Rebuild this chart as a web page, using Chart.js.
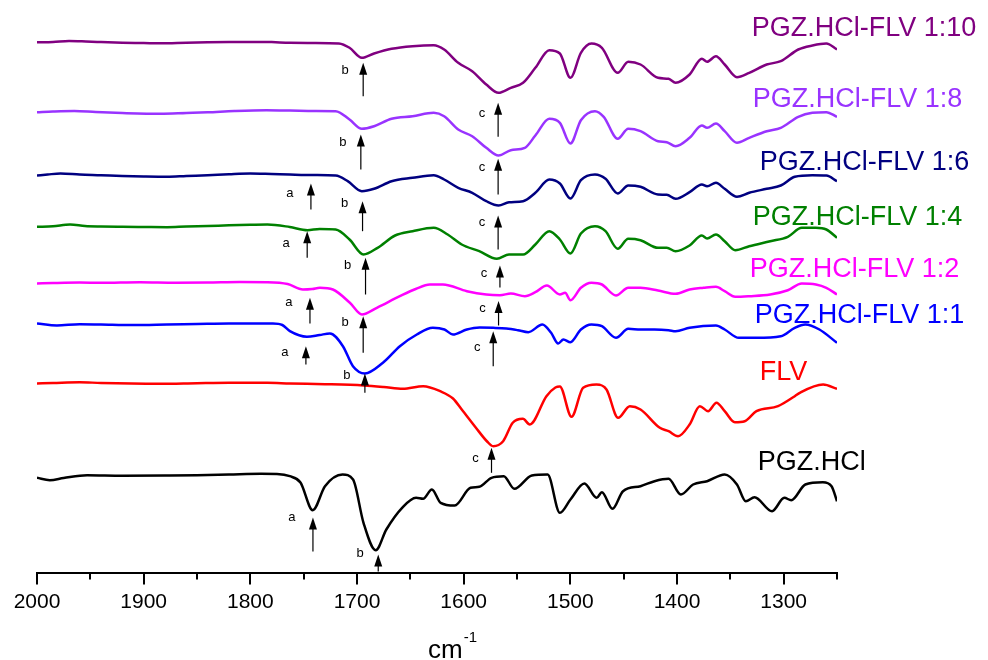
<!DOCTYPE html>
<html>
<head>
<meta charset="utf-8">
<title>FTIR spectra PGZ.HCl / FLV</title>
<script src="https://cdn.jsdelivr.net/npm/chart.js@4.4.1/dist/chart.umd.min.js"></script>
<style>
  html, body { margin: 0; padding: 0; background: #fff; }
  #wrap { width: 988px; height: 660px; position: relative; background: #fff; }
</style>
</head>
<body>
<div id="wrap"><canvas id="ftirChart"></canvas></div>
<script>
// Spectra as [wavenumber (cm-1), stacked transmittance (a.u.)]
const pgzHcl = [[2000,94.7],[1988,92.3],[1975,94.5],[1953,97.3],[1920,96.8],[1880,97],[1850,97.3],[1820,98],[1790,98.7],[1775,98.5],[1763,96.3],[1753,90],[1741.5,62.3],[1730,86.3],[1713.6,98],[1703.7,93],[1693.9,49.7],[1682.4,22.3],[1672.5,43],[1657.7,64.7],[1644.6,74.7],[1638,73.7],[1629.8,83],[1621.6,69.7],[1608.4,67],[1593.6,84.7],[1585.4,85.7],[1573.9,94.7],[1562.4,96.3],[1552.5,83.7],[1536.1,97],[1521.3,98],[1509.8,59.7],[1499.9,73],[1486.8,89],[1475.3,74.7],[1470.4,80.3],[1460.5,63.7],[1450.6,81.3],[1434.2,86.3],[1421.1,91.3],[1407.9,93.7],[1396.4,78],[1384.9,88],[1371.8,91.3],[1355.3,98],[1343.8,88],[1335.5,71.3],[1327.3,75.3],[1310.9,61.3],[1299.4,74.7],[1292.9,72.3],[1279.7,88],[1263.3,90.3],[1255.1,86.3],[1250,71.3]];

const flv = [[2000,189],[1985,189.5],[1960,190.3],[1940,189.5],[1884.7,188.7],[1850,189.3],[1820,189.7],[1784,189.7],[1762.9,189],[1730,188.3],[1693.9,187],[1675,185.5],[1657,183.7],[1638,186.3],[1622,181.3],[1610,174],[1601.8,163],[1588.7,145],[1578,131],[1572.3,126.3],[1563,131.3],[1554,149.7],[1544.5,153.7],[1538,148],[1522.4,176.3],[1514,185],[1509.8,186],[1498.9,155.7],[1488,184.7],[1475.5,188],[1466.1,183],[1455.2,154.7],[1444.2,166.3],[1434.2,163],[1416.1,144.7],[1407.9,141.3],[1399,136.3],[1388.2,148],[1378.6,166.3],[1370.9,161.3],[1363,169.7],[1355.3,161.3],[1345.8,150.3],[1336.5,151.3],[1325.5,161.3],[1305.3,166.3],[1289.6,176.3],[1284.9,179.7],[1263,188],[1250,183.7]];

const ratio11 = [[2000,249],[1981.3,247],[1960,248.3],[1940,248],[1910,247.5],[1878.2,248],[1850,248.5],[1820,249],[1778.8,249],[1770,247.5],[1762.9,241.3],[1746.9,235.7],[1735,237.5],[1725.4,239],[1713.2,226.3],[1703.8,206.3],[1692.6,199],[1675.7,209.7],[1659.8,226.3],[1643.9,238],[1628.9,244.7],[1618,243],[1610.1,238],[1597,243],[1585,245],[1572.3,244.7],[1560,244],[1549.2,242.3],[1539.4,240.3],[1526.2,248],[1518,239.7],[1511.4,229],[1506.5,233],[1499.9,230.3],[1490.1,243],[1480.2,248],[1470.4,246.3],[1457.2,234.7],[1445.7,243.7],[1434.2,243],[1421.1,243],[1407.9,242.3],[1401.3,241.3],[1388.2,244.7],[1363.5,247],[1355.3,243],[1342.1,234.7],[1325.7,234.7],[1302.7,236.3],[1289.6,244.7],[1279.7,248],[1266.5,243],[1250,229.7]];

const ratio12 = [[2000,289],[1985,289.5],[1960,290],[1940,289.7],[1903.5,290.3],[1870,289.8],[1840,290],[1810,290.5],[1784.4,290.3],[1765,288.5],[1750.7,283],[1742,283.5],[1734.8,284.7],[1722.6,283],[1706.7,269.7],[1695.4,258],[1681.4,264.7],[1659.8,276.3],[1645,283.5],[1631.7,288],[1619.5,288],[1597,281.3],[1578.8,278],[1566,277.3],[1555.8,279],[1542.6,276.3],[1532.8,280.3],[1522,287],[1509.8,278],[1504.9,279.7],[1499.9,272.3],[1490.1,284.7],[1480.2,289.7],[1470.4,288],[1457.2,277],[1445.7,284.7],[1434.2,284.7],[1417.8,282],[1401.3,278.7],[1388.2,283],[1375.1,284.7],[1363.5,285.7],[1355.3,281.3],[1345.4,275.7],[1332.3,276.3],[1312.6,278],[1296.1,282.3],[1283,289],[1269.8,288],[1260,284.7],[1250,278]];

const ratio14 = [[2000,345.7],[1985,346.3],[1969,348],[1955,346.5],[1940,346],[1920,345.7],[1900,345.5],[1878,345.3],[1860,346],[1840,346.5],[1820,347.2],[1800,347.7],[1784,348],[1763,345.5],[1746.5,342.3],[1735,343.5],[1720,343],[1707,333],[1693.9,318],[1680.7,324.7],[1664.3,337],[1647.9,341.3],[1628.1,344.7],[1615,338],[1601.8,328],[1585.4,321.3],[1568.9,313.7],[1557.5,318],[1544.3,318],[1532.8,328],[1519.7,341.3],[1509.8,333],[1499.9,319],[1490.1,339],[1476.9,346.3],[1467,341.3],[1455.6,323.7],[1445.7,333.7],[1434.2,332.3],[1417.8,324.7],[1409.6,324.7],[1401.3,321.3],[1388.2,327],[1376.7,337],[1371.8,334],[1363.5,338],[1355.3,331.3],[1345.4,322.3],[1332.3,326.3],[1312.6,331.3],[1296.1,335.7],[1283,344.7],[1269.8,344.7],[1260,343],[1250,334.7]];

const ratio16 = [[2000,397],[1990,398],[1978,399],[1960,398],[1940,397.3],[1920,396.5],[1900,396],[1878,395.7],[1860,396.5],[1840,397.3],[1820,398.3],[1800,399],[1780,398.5],[1763,398],[1740,397.5],[1720,397],[1708.7,391.3],[1695.5,381.3],[1684,383.7],[1667.6,391.3],[1647.9,394.7],[1628.1,397.3],[1618.3,393],[1605.1,384.7],[1592,379.7],[1578.8,371.3],[1567.3,367],[1557.5,370.3],[1544.3,371.3],[1532.8,379.7],[1519.7,393],[1509.8,389],[1499.9,374],[1490.1,392.3],[1476.9,398],[1467,393.7],[1455.6,379],[1445.7,387],[1434.2,385.7],[1417.8,378],[1409.6,377.7],[1401.3,373.7],[1388.2,380.3],[1376.7,388],[1371.8,386.3],[1363.5,389.7],[1355.3,383.7],[1343.8,375.7],[1332.3,379.7],[1315.9,383.7],[1302.7,387],[1289.6,395.7],[1273.1,397.3],[1260,397],[1250,391.3]];

const ratio18 = [[2000,460.3],[1985,461],[1965,461.5],[1945,460.5],[1920,459.5],[1884,458.7],[1860,459.5],[1840,460.2],[1815,461.5],[1785,462.3],[1763,462],[1740,461.5],[1720,461.3],[1707,453],[1695.5,443.7],[1684,446.3],[1667.6,453.7],[1647.9,456.3],[1628.1,459.7],[1618.3,456.3],[1605.1,443],[1592,436.3],[1578.8,424.7],[1567.3,417],[1555.8,422.3],[1542.6,424.7],[1532.8,437],[1519.7,453.7],[1509.8,449.7],[1499.9,429],[1490.1,452.3],[1476.9,461.3],[1468.7,455.7],[1455.6,433.7],[1445.7,443.7],[1434.2,441.3],[1417.8,431.3],[1409.6,430.3],[1401.3,426.3],[1388.2,434.7],[1376.7,447],[1371.8,444.7],[1363.5,449],[1355.3,441.3],[1343.8,429.7],[1332.3,434.7],[1315.9,441.3],[1302.7,444.7],[1286.3,455.7],[1273.1,459.7],[1260,460.3],[1250,455.7]];

const ratio110 = [[2000,530.3],[1985,530.6],[1970,531.6],[1958,531.3],[1940,530.4],[1920,529.8],[1900,529.5],[1884,529.2],[1860,529.8],[1840,530.2],[1820,530.5],[1800,530.6],[1780,530.4],[1763,529.7],[1740,529.6],[1717,529],[1707,524.7],[1695.5,514.7],[1684,519],[1667.6,523.7],[1647.9,526.3],[1628.1,527.3],[1618.3,523],[1605.1,509.7],[1592,501.3],[1578.8,488],[1567.3,479.7],[1555.8,484.7],[1544.3,489.7],[1532.8,504.7],[1519.7,522.3],[1509.8,519],[1499.9,494.7],[1490.1,519.7],[1480.2,529],[1470.4,524.7],[1455.6,499.7],[1445.7,510.7],[1434.2,508],[1417.8,494.7],[1407.9,493.7],[1401.3,489.7],[1388.2,498],[1376.7,513.7],[1371.8,510.7],[1363.5,516.3],[1355.3,508],[1343.8,495.3],[1332.3,499.7],[1315.9,508],[1302.7,511.3],[1286.3,523],[1273.1,527],[1260,529],[1250,523]];

// Series, bottom to top
const seriesNames = ['PGZ.HCl', 'FLV', 'PGZ.HCl-FLV 1:1', 'PGZ.HCl-FLV 1:2', 'PGZ.HCl-FLV 1:4', 'PGZ.HCl-FLV 1:6', 'PGZ.HCl-FLV 1:8', 'PGZ.HCl-FLV 1:10'];
const seriesData = [pgzHcl, flv, ratio11, ratio12, ratio14, ratio16, ratio18, ratio110];
// where each name sits: [wavenumber of left edge, baseline level]
const nameAnchors = [[1324.3,103],[1322.4,192.5],[1327.1,250],[1331.8,296],[1328.9,347.3],[1322.4,403],[1328.9,465.7],[1329.9,536.3]];

// Band markers: a ~1745 cm-1, b ~1695 cm-1, c ~1570 cm-1
const bandArrows = [
  { band: 'a', wn: 1741.3, tip: 55,    tail: 21,    label: 55 },
  { band: 'b', wn: 1680.1, tip: 18,    tail: 1,     label: 19 },
  { band: 'c', wn: 1573.9, tip: 124.7, tail: 99.7,  label: 113.7 },
  { band: 'a', wn: 1747.9, tip: 226.3, tail: 208,   label: 219.7 },
  { band: 'b', wn: 1692.6, tip: 199,   tail: 179.7, label: 197.5 },
  { band: 'c', wn: 1572.3, tip: 241.3, tail: 206.3, label: 224.7 },
  { band: 'a', wn: 1744.1, tip: 274.7, tail: 249,   label: 269.7 },
  { band: 'b', wn: 1694.2, tip: 256.3, tail: 219.7, label: 250.3 },
  { band: 'c', wn: 1567.3, tip: 271.5, tail: 247,   label: 264 },
  { band: 'a', wn: 1746.7, tip: 341.3, tail: 314.7, label: 328.7 },
  { band: 'b', wn: 1692,   tip: 314.7, tail: 278,   label: 307.3 },
  { band: 'c', wn: 1566,   tip: 307,   tail: 285,   label: 299 },
  { band: 'a', wn: 1743.2, tip: 389,   tail: 363,   label: 378.7 },
  { band: 'b', wn: 1694.8, tip: 371.3, tail: 341.3, label: 369 },
  { band: 'c', wn: 1567.7, tip: 357,   tail: 323,   label: 349.7 },
  { band: 'b', wn: 1696.4, tip: 438,   tail: 403,   label: 430.3 },
  { band: 'c', wn: 1567.7, tip: 413.7, tail: 378,   label: 404.7 },
  { band: 'b', wn: 1694.2, tip: 509.7, tail: 476.3, label: 502 },
  { band: 'c', wn: 1567.7, tip: 469.7, tail: 435.7, label: 459 }
];

const xTicks = [2000, 1900, 1800, 1700, 1600, 1500, 1400, 1300];

// line colours, same order as seriesNames
const lineColors = ['#000000', '#ff0000', '#0000ff', '#ff00ff', '#008000', '#000080', '#9933ff', '#800080'];
const FONT = 'Arial, "Liberation Sans", sans-serif';

const overlay = {
  id: 'overlay',
  afterDraw(chart) {
    const { ctx, chartArea, scales: { x, y } } = chart;
    ctx.save();

    // major / minor tick marks below the axis line
    ctx.strokeStyle = '#000';
    ctx.lineWidth = 2;
    for (let wn = 1250; wn <= 2000; wn += 50) {
      const px = Math.round(x.getPixelForValue(wn));
      const len = xTicks.includes(wn) ? 12 : 7;
      ctx.beginPath();
      ctx.moveTo(px, chartArea.bottom);
      ctx.lineTo(px, chartArea.bottom + len);
      ctx.stroke();
    }

    // band arrows with their letters
    ctx.fillStyle = '#000';
    ctx.lineWidth = 1.2;
    ctx.font = '13px ' + FONT;
    ctx.textAlign = 'center';
    ctx.textBaseline = 'middle';
    const letterShift = { a: -21, b: -18, c: -16 };
    bandArrows.forEach(a => {
      const px = x.getPixelForValue(a.wn);
      const tip = y.getPixelForValue(a.tip);
      const tail = y.getPixelForValue(a.tail);
      const head = Math.min(12, tail - tip);
      ctx.beginPath();
      ctx.moveTo(px, tail);
      ctx.lineTo(px, tip + head - 1);
      ctx.stroke();
      ctx.beginPath();
      ctx.moveTo(px, tip);
      ctx.lineTo(px - 4, tip + head);
      ctx.lineTo(px + 4, tip + head);
      ctx.closePath();
      ctx.fill();
      ctx.fillText(a.band, px + letterShift[a.band], y.getPixelForValue(a.label));
    });

    // series names at the right
    ctx.font = '27px ' + FONT;
    ctx.textAlign = 'left';
    ctx.textBaseline = 'alphabetic';
    seriesNames.forEach((name, i) => {
      ctx.fillStyle = lineColors[i];
      const [wn, lvl] = nameAnchors[i];
      ctx.fillText(name, x.getPixelForValue(wn), y.getPixelForValue(lvl));
    });

    // axis title cm-1 with superscript
    const cx = (chartArea.left + chartArea.right) / 2 - 9;
    const base = chart.height - 2;
    ctx.fillStyle = '#000';
    ctx.font = '26px ' + FONT;
    ctx.fillText('cm', cx, base);
    const w = ctx.measureText('cm').width;
    ctx.font = '15px ' + FONT;
    ctx.fillText('-1', cx + w + 1, base - 16);

    ctx.restore();
  }
};

const datasets = seriesData.map((pts, i) => ({
  label: seriesNames[i],
  data: pts.map(([wn, t]) => ({ x: wn, y: t })),
  borderColor: lineColors[i],
  borderWidth: 2.5,
  pointRadius: 0,
  cubicInterpolationMode: 'monotone',
  fill: false
}));

new Chart(document.getElementById('ftirChart'), {
  type: 'line',
  data: { datasets },
  options: {
    responsive: true,
    maintainAspectRatio: false,
    animation: false,
    events: [],
    layout: { padding: { left: 37, right: 151, top: 12.5, bottom: 28.3 } },
    plugins: { legend: { display: false }, tooltip: { enabled: false } },
    scales: {
      x: {
        type: 'linear',
        reverse: true,
        min: 1250,
        max: 2000,
        afterBuildTicks: scale => { scale.ticks = xTicks.map(v => ({ value: v })); },
        // keep the plot edges where the layout padding puts them
        afterFit: scale => { scale.paddingLeft = 0; scale.paddingRight = 0; },
        ticks: {
          color: '#000',
          font: { family: FONT, size: 21 },
          padding: 17,
          maxRotation: 0,
          autoSkip: false,
          callback: v => String(v)
        },
        grid: { display: false, drawTicks: false },
        border: { display: true, color: '#000', width: 2 }
      },
      y: { display: false, min: 0, max: 560 }
    }
  },
  plugins: [overlay]
});
</script>
</body>
</html>
